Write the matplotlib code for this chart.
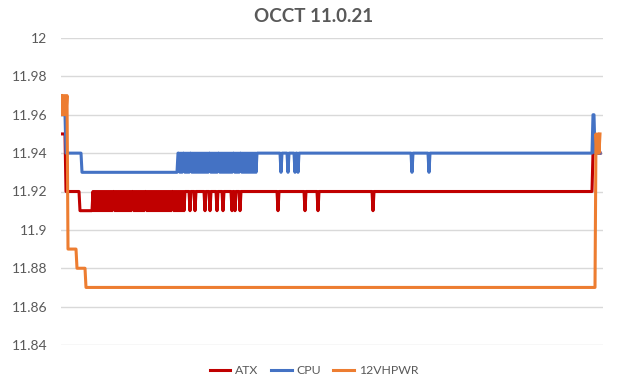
import numpy as np
import matplotlib
matplotlib.use("Agg")
import matplotlib.pyplot as plt

# one sample per pixel column of the original chart
n_samples = 540

# (first sample, level) steps, and samples that sit 0.01 below the step level
atx_steps = [(0, 11.95), (5, 11.92), (19, 11.91), (32, 11.92), (532, 11.94)]
atx_dips = [33, 35, 37, 39, 41, 43, 45, 47, 49, 51, 54, 56, 58, 60, 62, 64, 66,
            68, 70, 73, 75, 77, 79, 81, 83, 86, 88, 90, 92, 94, 96, 98, 100,
            102, 104, 106, 108, 110, 113, 115, 117, 119, 121, 123,
            129, 134, 144, 149, 156, 162, 171, 174, 179, 217, 244, 257, 312]

cpu_steps = [(0, 11.96), (5, 11.94), (21, 11.93), (117, 11.94), (532, 11.96), (534, 11.94)]
cpu_dips = [119, 121, 124, 126, 128, 131, 133, 135, 137, 139, 141, 143, 145,
            147, 150, 152, 154, 156, 159, 161, 163, 165, 167, 169, 171, 174,
            176, 178, 181, 183, 185, 187, 189, 191, 193, 195,
            220, 227, 234, 237, 351, 368]

hpwr_steps = [(0, 11.97), (7, 11.89), (16, 11.88), (25, 11.87), (535, 11.95)]
hpwr_dips = [1, 3, 5, 536, 538]

series_names = ["ATX", "CPU", "12VHPWR"]
series_colors = ["#C00000", "#4472C4", "#ED7D31"]
y_ticks = [11.84, 11.86, 11.88, 11.9, 11.92, 11.94, 11.96, 11.98, 12]


def build(steps, dips):
    y = np.zeros(n_samples)
    for start, level in steps:
        y[start:] = level
    y[dips] -= 0.01
    return y


def main():
    plt.rcParams['font.family'] = ['Lato', 'DejaVu Sans']
    fig = plt.figure(figsize=(6.2, 3.8), dpi=100)
    ax = fig.add_axes([60.5 / 620, 35 / 380, 542 / 620, 307 / 380])

    data = [build(atx_steps, atx_dips), build(cpu_steps, cpu_dips),
            build(hpwr_steps, hpwr_dips)]
    x = np.arange(n_samples)
    for name, color, y in zip(series_names, series_colors, data):
        ax.plot(x, y, color=color, lw=2.2, label=name)

    ax.set_xlim(-0.5, 541.5)
    ax.set_ylim(11.84, 12.0)
    ax.set_yticks(y_ticks)
    ax.set_yticklabels([f"{v:g}" for v in y_ticks])
    ax.set_xticks([])
    ax.tick_params(axis='y', length=0, pad=9.5, labelsize=10, labelcolor="#595959")
    ax.grid(axis='y', color="#D9D9D9", lw=1)
    ax.set_axisbelow(True)
    for s in ax.spines.values():
        s.set_visible(False)

    fig.text(314 / 620, 1 - 16 / 380, "OCCT 11.0.21", ha='center', va='center',
             fontsize=13.5, fontweight='bold', color="#595959")
    fig.legend(loc='center', bbox_to_anchor=(314 / 620, 9 / 380), ncol=3,
               frameon=False, fontsize=8.8, labelcolor="#595959",
               handlelength=1.7, handletextpad=0.4, columnspacing=1.0)

    fig.savefig("out.png", dpi=100)


if __name__ == "__main__":
    main()
